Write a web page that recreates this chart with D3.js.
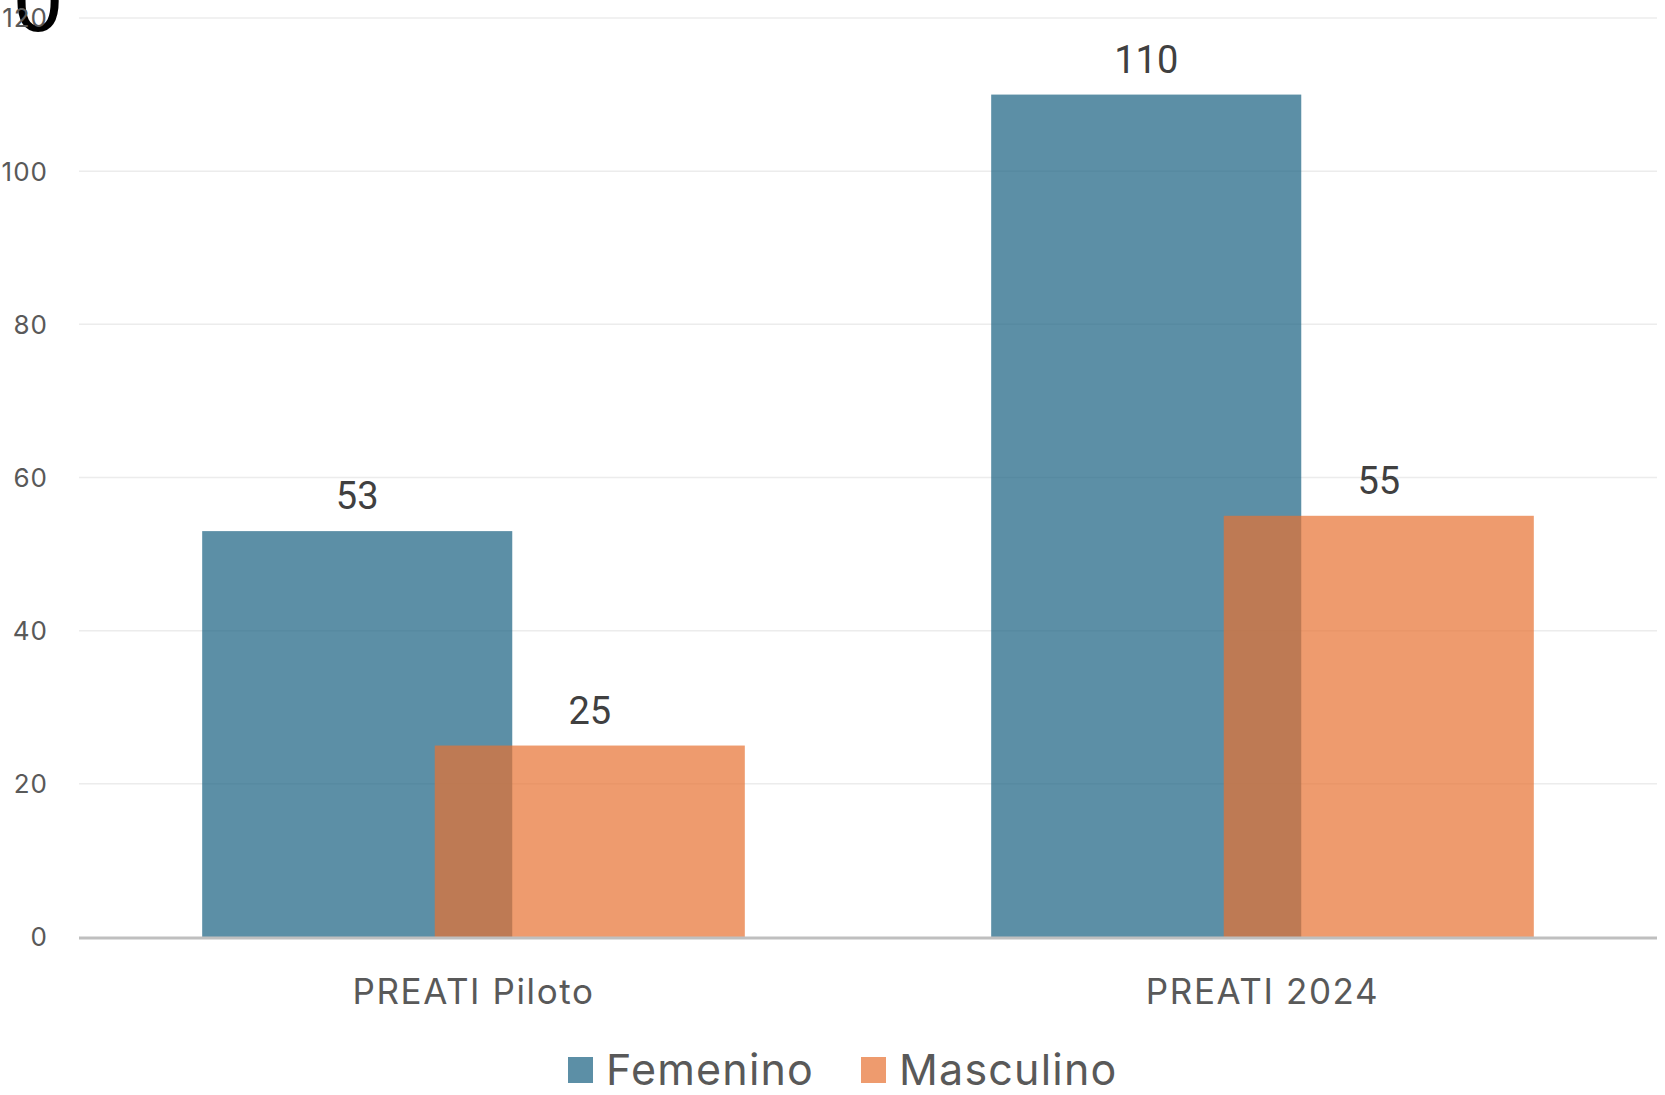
<!DOCTYPE html>
<html>
<head>
<meta charset="utf-8">
<script src="https://cdn.jsdelivr.net/npm/d3@7"></script>
<style>
  html, body { margin: 0; padding: 0; background: #fff; overflow: hidden; }
</style>
</head>
<body>
<script>
// data
const categories = ["PREATI Piloto", "PREATI 2024"];
const seriesNames = ["Femenino", "Masculino"];
const femenino = [53, 110];
const masculino = [25, 55];
const yTicks = [0, 20, 40, 60, 80, 100, 120];

const colors = {Femenino: "#196182", Masculino: "#E77233"};

const width = 1665, height = 1095;
const margin = {top: 18, right: 8, bottom: 158, left: 79};

const svg = d3.select("body")
    .append("svg")
    .attr("width", width)
    .attr("height", height);

// clipped glyph at the top-left corner (drawn under the tick labels)
svg.append("text")
    .attr("x", 12)
    .attr("y", 31)
    .attr("font-family", "'DejaVu Sans', sans-serif")
    .attr("font-size", 82)
    .attr("fill", "#000")
    .text("0");

const x = d3.scaleBand()
    .domain(categories)
    .range([margin.left, width - margin.right])
    .padding(0);

const y = d3.scaleLinear()
    .domain([0, 120])
    .range([height - margin.bottom, margin.top]);

// bars overlap each other by a quarter of their width
const barW = x.bandwidth() * 0.393;
const step = barW * 0.75;

// gridlines
svg.append("g")
    .selectAll("line")
    .data(yTicks.filter(d => d > 0))
    .join("line")
    .attr("x1", margin.left)
    .attr("x2", width - margin.right)
    .attr("y1", d => y(d))
    .attr("y2", d => y(d))
    .attr("stroke", "#ececec")
    .attr("stroke-width", 1.5);

// y tick labels
svg.append("g")
    .selectAll("text")
    .data(yTicks)
    .join("text")
    .attr("x", 48)
    .attr("y", d => y(d))
    .attr("dy", "0.36em")
    .attr("text-anchor", "end")
    .attr("font-family", "Inter, 'Open Sans', sans-serif")
    .attr("font-size", 26)
    .attr("letter-spacing", 1)
    .attr("fill", "#595959")
    .text(d => d);

const rows = categories.map((c, i) => ({cat: c, Femenino: femenino[i], Masculino: masculino[i]}));

seriesNames.forEach((s, si) => {
    const g = svg.append("g");
    g.selectAll("rect")
        .data(rows)
        .join("rect")
        .attr("x", d => x(d.cat) + x.bandwidth() / 2 + (si - 0.5) * step - barW / 2)
        .attr("y", d => y(d[s]))
        .attr("width", barW)
        .attr("height", d => y(0) - y(d[s]))
        .attr("fill", colors[s])
        .attr("fill-opacity", 0.71);

    g.selectAll("text")
        .data(rows)
        .join("text")
        .attr("x", d => x(d.cat) + x.bandwidth() / 2 + (si - 0.5) * step)
        .attr("y", d => y(d[s]) - 22)
        .attr("text-anchor", "middle")
        .attr("font-family", "Roboto, sans-serif")
        .attr("font-size", 38)
        .attr("fill", "#404040")
        .text(d => d[s]);
});

// baseline
svg.append("line")
    .attr("x1", margin.left)
    .attr("x2", width - margin.right)
    .attr("y1", y(0) + 1)
    .attr("y2", y(0) + 1)
    .attr("stroke", "#bfbfbf")
    .attr("stroke-width", 3);

// category labels
svg.append("g")
    .selectAll("text")
    .data(categories)
    .join("text")
    .attr("x", d => x(d) + x.bandwidth() / 2)
    .attr("y", 1004)
    .attr("text-anchor", "middle")
    .attr("font-family", "Inter, 'Open Sans', sans-serif")
    .attr("font-size", 35)
    .attr("letter-spacing", 1.6)
    .attr("fill", "#595959")
    .text(d => d);

// legend
const legend = svg.append("g");
const legendX = [568, 861];
seriesNames.forEach((s, i) => {
    legend.append("rect")
        .attr("x", legendX[i])
        .attr("y", 1057)
        .attr("width", 25)
        .attr("height", 26)
        .attr("fill", colors[s])
        .attr("fill-opacity", 0.71);
    legend.append("text")
        .attr("x", legendX[i] + 38)
        .attr("y", 1085)
        .attr("font-family", "Inter, 'Open Sans', sans-serif")
        .attr("font-size", 43)
        .attr("letter-spacing", 1.2)
        .attr("fill", "#595959")
        .text(s);
});
</script>
</body>
</html>
